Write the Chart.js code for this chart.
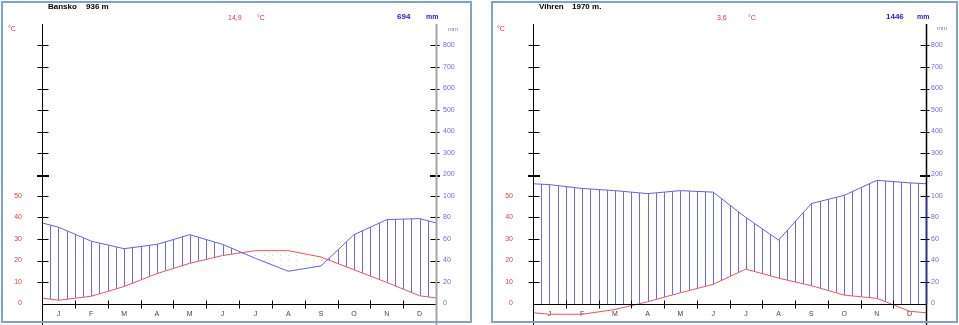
<!DOCTYPE html>
<html>
<head>
<meta charset="utf-8">
<script src="https://cdn.jsdelivr.net/npm/chart.js@4.4.1/dist/chart.umd.min.js"></script>
<style>
  body { margin: 0; background: #fff; width: 959px; height: 325px; overflow: hidden; position: relative;
         font-family: 'Liberation Sans', Arial, sans-serif; }
  .box { position: absolute; top: 0; height: 325px; }
  .frame { position: absolute; border: 2px solid #7da2d4; box-sizing: border-box; pointer-events: none; z-index: 2; }
  .lbl { position: absolute; white-space: nowrap; line-height: 1; z-index: 3; }
  .name { font-size: 8px; font-weight: bold; color: #000; }
  .tval { font-size: 7px; color: #e03030; }
  .pval { font-size: 8px; font-weight: bold; color: #2424d0; }
  .unit { font-size: 6px; color: #7070e0; }
</style>
</head>
<body>
<div class="box" style="left:0;width:480px"><canvas id="bansko"></canvas></div>
<div class="box" style="left:480px;width:479px"><canvas id="vihren"></canvas></div>
<div class="frame" style="left:1px;top:1px;width:471px;height:322px"></div>
<div class="frame" style="left:491px;top:1px;width:467px;height:322px"></div>

<span class="lbl name" style="left:48px;top:3px">Bansko</span>
<span class="lbl name" style="left:86px;top:3px">936 m</span>
<span class="lbl tval" style="left:228px;top:14px">14,9</span>
<span class="lbl tval" style="left:257px;top:14px">°C</span>
<span class="lbl pval" style="left:397px;top:13px">694</span>
<span class="lbl pval" style="left:426px;top:13px;font-size:7px">mm</span>
<span class="lbl tval" style="left:8px;top:25px">°C</span>
<span class="lbl unit" style="left:448px;top:26px">mm</span>

<span class="lbl name" style="left:539px;top:3px">Vihren</span>
<span class="lbl name" style="left:572px;top:3px">1970 m.</span>
<span class="lbl tval" style="left:717px;top:14px">3,6</span>
<span class="lbl tval" style="left:748px;top:14px">°C</span>
<span class="lbl pval" style="left:886px;top:13px">1446</span>
<span class="lbl pval" style="left:917px;top:13px;font-size:7px">mm</span>
<span class="lbl tval" style="left:497px;top:25px">°C</span>
<span class="lbl unit" style="left:937px;top:25px">mm</span>

<script>
// monthly means
const MONTHS = ['J', 'F', 'M', 'A', 'M', 'J', 'J', 'A', 'S', 'O', 'N', 'D'];
const BANSKO_TEMP = [1.5, 3.4, 7.9, 13.9, 18.7, 22.3, 24.6, 24.6, 21.6, 15.7, 9.8, 3.6];
const BANSKO_PREC = [71, 58, 51, 55, 64, 55, 42, 30, 35, 64, 78, 79];
const VIHREN_TEMP = [-5.0, -5.0, -2.8, 0.8, 5.0, 8.9, 16.0, 11.8, 8.3, 3.9, 2.4, -3.6];
const VIHREN_PREC = [153, 135, 125, 111, 125, 118, 80, 59, 93, 103, 173, 161];
const TEMP_TICKS = [0, 10, 20, 30, 40, 50];
const PREC_TICKS = [0, 20, 40, 60, 80, 100, 200, 300, 400, 500, 600, 700, 800];

// Walter-Lieth scale: 10 °C = 20 mm up to 100 mm, then 10 °C = 100 mm
const precToUnit = mm => mm <= 100 ? mm / 2 : 50 + (mm - 100) / 10;

// add Dec before Jan and Jan after Dec so the lines run out to both axes
function yearRound(values, toY) {
    const pts = values.map((v, i) => ({ x: i + 0.5, y: toY(v) }));
    pts.unshift({ x: -0.5, y: toY(values[11]) });
    pts.push({ x: 12.5, y: toY(values[0]) });
    return pts;
}

function hatchPattern(width, color, dotted) {
    const c = document.createElement('canvas');
    c.width = width;
    c.height = dotted ? 5 : 2;
    const g = c.getContext('2d');
    g.fillStyle = color;
    for (let k = 0; k < 48; k++) {
        g.fillRect(Math.round(k * width / 48), 0, 1, dotted ? 1 : 2);
    }
    return g.createPattern(c, 'repeat');
}

const axisMarks = {
    id: 'axisMarks',
    afterLayout(chart, args, o) {
        const m = new DOMMatrix([1, 0, 0, 1, Math.round(chart.chartArea.left), 0]);
        o.patterns.forEach(p => p.setTransform(m));
    },
    // fills are drawn first; hatching stops at the 0 line below freezing
    beforeDraw(chart) {
        const { ctx, chartArea: a, scales: { y } } = chart;
        const y0 = Math.round(y.getPixelForValue(0)) + 1;
        ctx.clearRect(a.left, y0, a.right - a.left, a.bottom - y0 + 2);
    },
    afterDraw(chart, args, o) {
        const { ctx, chartArea: a, scales: { x, y } } = chart;
        const L = Math.round(a.left) + 0.5;
        const R = Math.round(a.right) + 0.5;
        const y0 = Math.round(y.getPixelForValue(0)) + 0.5;
        const yTop = y.getPixelForValue(130);
        const yBot = y.getPixelForValue(-10);
        ctx.save();
        ctx.lineWidth = 1;
        ctx.strokeStyle = '#000';
        ctx.beginPath();
        ctx.moveTo(L, yTop); ctx.lineTo(L, yBot);
        ctx.moveTo(L, y0); ctx.lineTo(R, y0);
        for (let v = 10; v <= 120; v += 10) {
            if (v === 60) continue;
            const p = Math.round(y.getPixelForValue(v)) + 0.5;
            ctx.moveTo(L - 5, p); ctx.lineTo(L + 6, p);
            ctx.moveTo(R - 6, p); ctx.lineTo(R + 3, p);
        }
        for (let i = 1; i < 12; i++) {
            const p = Math.round(x.getPixelForValue(i)) + 0.5;
            ctx.moveTo(p, y0 - 4); ctx.lineTo(p, y0 + 4);
        }
        ctx.stroke();
        // 100 mm mark a little heavier
        const p60 = Math.round(y.getPixelForValue(60));
        ctx.fillStyle = '#000';
        ctx.fillRect(L - 5.5, p60, 12, 2);
        ctx.fillRect(R - 6.5, p60, 10, 2);
        // precipitation axis
        ctx.lineWidth = o.rightWidth;
        ctx.strokeStyle = o.rightColor;
        ctx.beginPath();
        ctx.moveTo(R, yTop); ctx.lineTo(R, yBot);
        ctx.stroke();
        if (o.rightLow) {
            ctx.strokeStyle = o.rightLow;
            ctx.beginPath();
            ctx.moveTo(R, y.getPixelForValue(50)); ctx.lineTo(R, y0);
            ctx.stroke();
        }
        ctx.restore();
    }
};

function makeChart(id, temp, prec, o) {
    const blue = hatchPattern(o.plotWidth, '#6a6aee', false);
    const red = hatchPattern(o.plotWidth, 'rgba(240,140,140,0.55)', true);
    const tickFont = { family: "'Liberation Sans', Arial, sans-serif", size: 7 };
    const noPad = s => { s.width = s.position === 'left' ? o.left : o.right; s.paddingTop = 0; s.paddingBottom = 0; };
    return new Chart(document.getElementById(id), {
        type: 'line',
        data: {
            datasets: [{
                label: 'mm',
                data: yearRound(prec, precToUnit),
                borderColor: '#6060ea',
                borderWidth: 1,
                pointRadius: 0,
                tension: 0,
                fill: { target: 1, above: blue, below: red }
            }, {
                label: '°C',
                data: yearRound(temp, v => v),
                borderColor: '#e25858',
                borderWidth: 1,
                pointRadius: 0,
                tension: 0,
                fill: false
            }]
        },
        options: {
            responsive: true,
            maintainAspectRatio: false,
            animation: false,
            events: [],
            layout: { padding: { left: 0, right: 0, top: 24, bottom: -20 } },
            plugins: {
                legend: { display: false },
                tooltip: { enabled: false },
                filler: { drawTime: 'beforeDraw' },
                axisMarks: { patterns: [blue, red], rightColor: o.rightColor, rightWidth: o.rightWidth, rightLow: o.rightLow }
            },
            scales: {
                x: {
                    type: 'linear', min: 0, max: 12, position: { y: 0 },
                    grid: { display: false, drawTicks: false }, border: { display: false },
                    afterBuildTicks: s => { s.ticks = MONTHS.map((m, i) => ({ value: i + 0.5 })); },
                    afterFit: s => { s.height = 0; },
                    ticks: { autoSkip: false, maxRotation: 0, padding: 6, color: '#444', font: tickFont,
                             callback: (v, i) => MONTHS[i] }
                },
                y: {
                    min: -10, max: 130, position: 'left',
                    grid: { display: false, drawTicks: false }, border: { display: false },
                    afterFit: noPad,
                    ticks: { stepSize: 10, padding: 20, color: '#e84040', font: tickFont,
                             callback: v => TEMP_TICKS.includes(v) ? v : '' }
                },
                y2: {
                    min: -10, max: 130, position: 'right',
                    grid: { display: false, drawTicks: false }, border: { display: false },
                    afterFit: noPad,
                    ticks: { stepSize: 10, padding: o.rightPad, color: '#6b6bd8', font: tickFont,
                             callback: v => {
                                 const p = PREC_TICKS.find(t => precToUnit(t) === v);
                                 return p === undefined ? '' : p;
                             } }
                }
            }
        },
        plugins: [axisMarks]
    });
}

makeChart('bansko', BANSKO_TEMP, BANSKO_PREC,
    { left: 42, right: 44, plotWidth: 394, rightPad: 7, rightColor: '#a4a4a4', rightWidth: 2 });
makeChart('vihren', VIHREN_TEMP, VIHREN_PREC,
    { left: 53, right: 33, plotWidth: 393, rightPad: 5, rightColor: '#000', rightWidth: 1.5, rightLow: '#2a2aa8' });
</script>
</body>
</html>
